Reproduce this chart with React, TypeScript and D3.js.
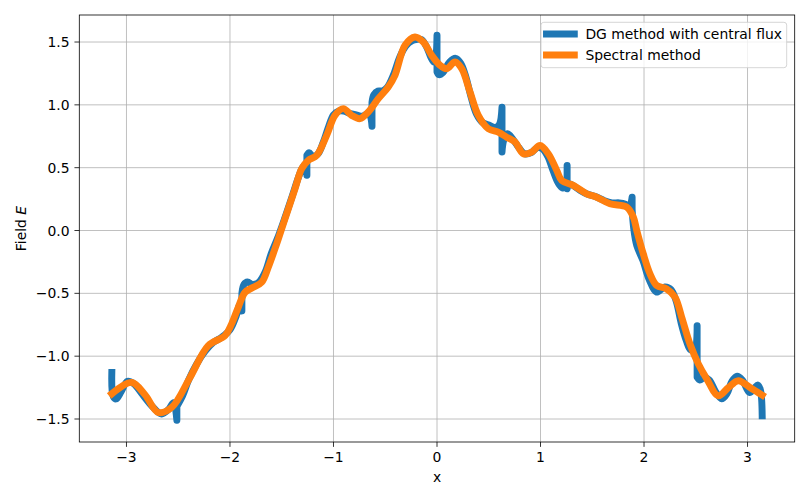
import * as d3 from 'd3';

// axis ticks
const xTicks = [-3, -2, -1, 0, 1, 2, 3];
const yTicks = [-1.5, -1.0, -0.5, 0.0, 0.5, 1.0, 1.5];

// spectral solution
const specX = [-3.1416, -2.950, -2.821, -2.693, -2.563, -2.386, -2.210, -2.048, -1.984, -1.920, -1.855, -1.775, -1.694, -1.630, -1.549, -1.485, -1.372, -1.307, -1.243, -1.162, -1.066, -0.986, -0.905, -0.824, -0.744, -0.664, -0.567, -0.471, -0.406, -0.309, -0.213, -0.132, -0.051, 0.029, 0.094, 0.174, 0.239, 0.319, 0.399, 0.496, 0.592, 0.673, 0.754, 0.834, 0.915, 0.995, 1.075, 1.157, 1.205, 1.317, 1.446, 1.543, 1.671, 1.833, 1.897, 1.930, 1.993, 2.058, 2.123, 2.219, 2.300, 2.364, 2.444, 2.525, 2.606, 2.718, 2.816, 2.911, 3.024, 3.1416];
const specY = [-1.299, -1.209, -1.307, -1.448, -1.408, -1.169, -0.916, -0.837, -0.743, -0.611, -0.492, -0.452, -0.412, -0.292, -0.106, 0.053, 0.332, 0.492, 0.558, 0.598, 0.757, 0.916, 0.970, 0.916, 0.890, 0.943, 1.049, 1.142, 1.235, 1.474, 1.540, 1.500, 1.394, 1.315, 1.288, 1.341, 1.288, 1.102, 0.916, 0.810, 0.783, 0.743, 0.704, 0.611, 0.624, 0.677, 0.611, 0.478, 0.398, 0.359, 0.292, 0.265, 0.213, 0.186, 0.106, 0.0, -0.186, -0.345, -0.438, -0.465, -0.531, -0.690, -0.903, -1.062, -1.180, -1.315, -1.249, -1.195, -1.249, -1.310];

// DG solution, 10 elements; a repeated x marks the jump between elements
const dgX = [
  -3.1416, -3.128, -3.10, -3.05, -2.99, -2.93, -2.85, -2.75, -2.66, -2.59, -2.545, -2.5133,
  -2.5133, -2.46, -2.40, -2.32, -2.24, -2.16, -2.08, -2.00, -1.94, -1.905, -1.885,
  -1.885, -1.865, -1.83, -1.78, -1.72, -1.66, -1.60, -1.54, -1.47, -1.40, -1.34, -1.30, -1.275, -1.257,
  -1.257, -1.235, -1.20, -1.15, -1.10, -1.05, -1.00, -0.95, -0.90, -0.84, -0.78, -0.72, -0.67, -0.645, -0.628,
  -0.628, -0.61, -0.57, -0.53, -0.48, -0.42, -0.36, -0.30, -0.24, -0.20, -0.15, -0.10, -0.06, -0.03, -0.012, 0,
  0, 0.02, 0.06, 0.12, 0.18, 0.23, 0.28, 0.33, 0.38, 0.44, 0.50, 0.56, 0.60, 0.628,
  0.628, 0.645, 0.68, 0.73, 0.79, 0.85, 0.91, 0.97, 1.02, 1.07, 1.12, 1.17, 1.21, 1.24, 1.257,
  1.257, 1.275, 1.31, 1.38, 1.45, 1.53, 1.61, 1.69, 1.76, 1.82, 1.86, 1.885,
  1.885, 1.90, 1.93, 1.99, 2.05, 2.12, 2.20, 2.26, 2.31, 2.36, 2.41, 2.45, 2.49, 2.513,
  2.513, 2.54, 2.58, 2.63, 2.69, 2.75, 2.80, 2.85, 2.90, 2.95, 3.02, 3.07, 3.10, 3.125, 3.1416,
];
const dgY = [
  -1.13, -1.32, -1.34, -1.28, -1.20, -1.22, -1.30, -1.40, -1.46, -1.42, -1.37, -1.51,
  -1.40, -1.32, -1.19, -1.06, -0.96, -0.89, -0.85, -0.79, -0.68, -0.59, -0.64,
  -0.50, -0.43, -0.41, -0.43, -0.41, -0.33, -0.18, -0.06, 0.10, 0.27, 0.42, 0.50, 0.52, 0.44,
  0.60, 0.62, 0.59, 0.61, 0.70, 0.82, 0.92, 0.95, 0.95, 0.93, 0.92, 0.91, 0.93, 0.91, 0.83,
  1.02, 1.08, 1.11, 1.11, 1.14, 1.24, 1.38, 1.47, 1.51, 1.52, 1.52, 1.46, 1.38, 1.34, 1.38, 1.554,
  1.263, 1.24, 1.26, 1.34, 1.37, 1.33, 1.22, 1.06, 0.93, 0.86, 0.84, 0.82, 0.84, 0.982,
  0.625, 0.72, 0.77, 0.73, 0.66, 0.61, 0.62, 0.66, 0.65, 0.59, 0.48, 0.38, 0.34, 0.35, 0.518,
  0.332, 0.37, 0.36, 0.32, 0.29, 0.27, 0.24, 0.22, 0.22, 0.21, 0.19, 0.265,
  0.17, 0.02, -0.12, -0.24, -0.39, -0.49, -0.45, -0.47, -0.56, -0.74, -0.88, -0.95, -0.95, -0.757,
  -1.167, -1.19, -1.17, -1.19, -1.28, -1.34, -1.30, -1.20, -1.16, -1.19, -1.29, -1.25, -1.23, -1.27, -1.474,
];

const seriesNames = ['DG method with central flux', 'Spectral method'];
const colors = ['#1f77b4', '#ff7f0e'];

const W = 809;
const H = 500;
const FONT = 'DejaVu Sans, sans-serif';
const FS = 13.9;
const LW = 6.94;

export default function App() {
  const left = 79.3, right = 794.7, top = 15, bottom = 442;
  const x = d3.scaleLinear().domain([-Math.PI * 1.1, Math.PI * 1.1]).range([left, right]);
  const y = d3.scaleLinear().domain([-1.683, 1.715]).range([bottom, top]);
  const fmtY = d3.format('.1f');
  const fmtX = d3.format('d');

  const smooth = d3.line<[number, number]>()
    .x(d => x(d[0])).y(d => y(d[1]))
    .curve(d3.curveCatmullRom.alpha(0.5));

  const spec: [number, number][] = specX.map((v, i) => [v, specY[i]]);
  const specPath = smooth(spec) || '';

  // split DG into elements at the repeated x values, join them with straight jumps
  const elems: [number, number][][] = [];
  let cur: [number, number][] = [];
  dgX.forEach((v, i) => {
    if (i > 0 && v === dgX[i - 1]) { elems.push(cur); cur = []; }
    cur.push([v, dgY[i]]);
  });
  elems.push(cur);
  const dgPath = elems.map((e, i) => {
    const p = smooth(e) || '';
    return i === 0 ? p : 'L' + p.slice(1);
  }).join('');

  return (
    <div style={{ position: 'fixed', left: 0, top: 0, background: '#fff' }}>
      <svg width={W} height={H} viewBox={`0 0 ${W} ${H}`} style={{ display: 'block', fontFamily: FONT }}>
        <rect x={0} y={0} width={W} height={H} fill="#fff" />
        <defs>
          <clipPath id="plotclip">
            <rect x={left} y={top} width={right - left} height={bottom - top} />
          </clipPath>
        </defs>
        {/* grid */}
        <g stroke="#b0b0b0" strokeWidth={0.8}>
          {xTicks.map(t => <line key={'gx' + t} x1={x(t)} x2={x(t)} y1={top} y2={bottom} />)}
          {yTicks.map(t => <line key={'gy' + t} x1={left} x2={right} y1={y(t)} y2={y(t)} />)}
        </g>
        {/* series */}
        <g clipPath="url(#plotclip)" fill="none" strokeLinejoin="round" strokeLinecap="square" strokeWidth={LW}>
          <path d={dgPath} stroke={colors[0]} />
          <path d={specPath} stroke={colors[1]} />
        </g>
        {/* spines */}
        <rect x={left} y={top} width={right - left} height={bottom - top} fill="none" stroke="#000" strokeWidth={0.8} />
        {/* x axis */}
        <g fontSize={FS} fill="#000">
          {xTicks.map(t => (
            <g key={'tx' + t}>
              <line x1={x(t)} x2={x(t)} y1={bottom} y2={bottom + 4.86} stroke="#000" strokeWidth={0.8} />
              <text x={x(t)} y={bottom + 20} textAnchor="middle">{fmtX(t)}</text>
            </g>
          ))}
          {yTicks.map(t => (
            <g key={'ty' + t}>
              <line x1={left - 4.86} x2={left} y1={y(t)} y2={y(t)} stroke="#000" strokeWidth={0.8} />
              <text x={left - 9.7} y={y(t) + 5} textAnchor="end">{fmtY(t)}</text>
            </g>
          ))}
          <text x={(left + right) / 2} y={482} textAnchor="middle">x</text>
          <text transform={`translate(26,${(top + bottom) / 2}) rotate(-90)`} textAnchor="middle">
            Field <tspan fontStyle="italic">E</tspan>
          </text>
        </g>
        {/* legend */}
        <g>
          <rect x={541} y={22.3} width={245.7} height={45.4} rx={2.8} fill="#fff" fillOpacity={0.8} stroke="#cccccc" strokeWidth={0.8} />
          {seriesNames.map((name, i) => (
            <g key={name}>
              <line x1={546.5} x2={574.3} y1={34 + i * 21} y2={34 + i * 21} stroke={colors[i]} strokeWidth={LW} strokeLinecap="square" />
              <text x={585.4} y={34 + i * 21 + 5} fontSize={FS} fill="#000">{name}</text>
            </g>
          ))}
        </g>
      </svg>
    </div>
  );
}
